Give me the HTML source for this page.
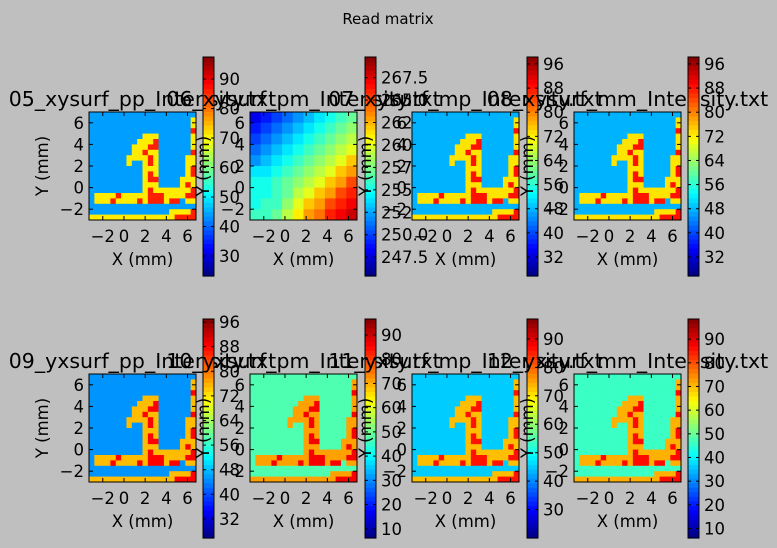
<!DOCTYPE html>
<html><head><meta charset="utf-8">
<style>
html,body{margin:0;padding:0;background:#bfbfbf;}
svg{display:block;font-family:"DejaVu Sans","Liberation Sans",sans-serif;}
</style></head>
<body>
<svg id="fig" width="777" height="548" viewBox="0 0 777 548" xmlns="http://www.w3.org/2000/svg">
<rect width="777" height="548" fill="#bfbfbf"/>
<text x="388" y="24" font-size="15" text-anchor="middle" fill="#000">Read matrix</text>
</svg>
<script>
// ---- data ----
const titles = ["05_xysurf_pp_Intensity.txt","06_xysurf_pm_Intensity.txt","07_xysurf_mp_Intensity.txt","08_xysurf_mm_Intensity.txt",
  "09_yxsurf_pp_Intensity.txt","10_yxsurf_pm_Intensity.txt","11_yxsurf_mp_Intensity.txt","12_yxsurf_mm_Intensity.txt"];
const cbMin = [23.2,245.4,25.7,25.7,25.8,6.2,20,6];
const cbMax = [97.5,269.8,98.3,98.3,97,96.6,97,98.5];
const cbTicks = [
  [30,40,50,60,70,80,90],
  [247.5,250,252.5,255,257.5,260,262.5,265,267.5],
  [32,40,48,56,64,72,80,88,96],
  [32,40,48,56,64,72,80,88,96],
  [32,40,48,56,64,72,80,88,96],
  [10,20,30,40,50,60,70,80,90],
  [30,40,50,60,70,80,90],
  [10,20,30,40,50,60,70,80,90]];
const cbDecimals = [0,1,0,0,0,0,0,0];
const bgVal = [44,null,47.5,47.5,45,47,45,46];
const fgVal = [71,null,73,73,75,71,73,71];
const hotVal = [86,null,88,88,88,86,86,86];
const axTicks = [-2,0,2,4,6];
const xRange = [-3.3,6.8];
const yRange = [-3,7];
// mask: '.' background, 'o' feature, 'h' hot feature (20x20 cells)
const mask = [
"....................",
"...................o",
"...................o",
"...................h",
"..........ooo......o",
".........oooh......o",
"........ooohh......o",
"........oohoo......h",
".......ooooho.....oo",
".......o..oho.....oo",
"..........ooo.....oh",
"..........oho.....oh",
"..........ohh....ooo",
"..........ooo....oho",
"..........ohoooooooh",
".oooohooooohhhoooohh",
".ooohoooohohhhohh.oo",
"....................",
"...............ooooh",
"oooooooooooooooohhhh"];
// panel 06 smooth field (10x10)
const field06 = [
[248,249,250,251,252,253,254,255,256,257],
[249,250,251,252,253,254,255,256,257,258],
[250,251,252,253,254,255,256,257,258,259],
[251,252,253,254,255,256,257,258,259,260],
[252,253,254,255,256,257,258,259,260,262],
[254,254,255,256,257,258,259,260,262,263],
[255,255,256,257,258,259,260,262,263,265],
[255,255,256,257,259,260,262,263,265,266],
[255,256,256,258,260,262,263,265,266,267],
[256,256,257,259,261,263,264,266,267,268]];
// ---- layout ----
const imgLeft = [89,250,412,574,89,250,412,574];
const imgTop = [112,112,112,112,374,374,374,374];
const W = 107, H = 108;
const cbLeft = [203,365,527,688,203,365,527,688];
const cbTop = [57,57,57,57,319,319,319,319];
const cbH = 219, cbW = 11;

const NS = "http://www.w3.org/2000/svg";
const svg = document.getElementById('fig');
function el(tag, attrs, parent){const e=document.createElementNS(NS,tag);for(const k in attrs)e.setAttribute(k,attrs[k]);(parent||svg).appendChild(e);return e;}
function jet(t){t=Math.max(0,Math.min(1,t));const c=v=>Math.round(255*Math.max(0,Math.min(1,v)));
  return `rgb(${c(1.5-Math.abs(4*t-3))},${c(1.5-Math.abs(4*t-2))},${c(1.5-Math.abs(4*t-1))})`;}
function fmt(v,d){return (v<0?"\u2212":"")+Math.abs(v).toFixed(d);}

for(let p=0;p<8;p++){
  const g = el('g',{});
  
  
  const L=imgLeft[p],T=imgTop[p];
  const sx=v=>L+(v-xRange[0])/(xRange[1]-xRange[0])*W;
  const sy=v=>T+(yRange[1]-v)/(yRange[1]-yRange[0])*H;
  const col=v=>jet((v-cbMin[p])/(cbMax[p]-cbMin[p]));
  const hm = el('g',{},g);
  
  
  if(p===1){
    const n=field06.length,m=field06[0].length;
    for(let r=0;r<n;r++)for(let c=0;c<m;c++){
      const x0=sx(xRange[0]+c*(xRange[1]-xRange[0])/m), x1=sx(xRange[0]+(c+1)*(xRange[1]-xRange[0])/m);
      const y0=sy(yRange[1]-r*(yRange[1]-yRange[0])/n), y1=sy(yRange[1]-(r+1)*(yRange[1]-yRange[0])/n);
      const cell=el('rect',{x:x0,y:y0,width:x1-x0+0.5,height:y1-y0+0.5,fill:col(field06[r][c])},hm);
      
    }
  } else {
    const n=mask.length,m=mask[0].length;
    for(let r=0;r<n;r++)for(let c=0;c<m;c++){
      const ch=mask[r][c];
      const v= ch==='h'?hotVal[p]:ch==='o'?fgVal[p]:bgVal[p];
      const x0=sx(xRange[0]+c*(xRange[1]-xRange[0])/m), x1=sx(xRange[0]+(c+1)*(xRange[1]-xRange[0])/m);
      const y0=sy(yRange[1]-r*(yRange[1]-yRange[0])/n), y1=sy(yRange[1]-(r+1)*(yRange[1]-yRange[0])/n);
      const cell=el('rect',{x:x0,y:y0,width:x1-x0+0.5,height:y1-y0+0.5,fill:col(v)},hm);
      
    }
  }
  const frame=el('rect',{x:L,y:T,width:W,height:H,fill:'none',stroke:'#000','stroke-width':1},g);
  
  
  axTicks.forEach(v=>{
    const x=sx(v);
    el('line',{x1:x,x2:x,y1:T+H,y2:T+H-4,stroke:'#000'},g);
    el('line',{x1:x,x2:x,y1:T,y2:T+4,stroke:'#000'},g);
    const tx=el('text',{x:x,y:T+H+22,'font-size':16.5,'text-anchor':'middle',fill:'#000'},g);
    tx.textContent=fmt(v,0);
    
    
    const y=sy(v);
    el('line',{x1:L,x2:L+4,y1:y,y2:y,stroke:'#000'},g);
    el('line',{x1:L+W,x2:L+W-4,y1:y,y2:y,stroke:'#000'},g);
    const ty=el('text',{x:L-5,y:y+6,'font-size':16.5,'text-anchor':'end',fill:'#000'},g);
    ty.textContent=fmt(v,0);
    
    
  });
  const xl=el('text',{x:L+W/2,y:T+H+45,'font-size':16.5,'text-anchor':'middle',fill:'#000'},g);
  xl.textContent='X (mm)';
  
  
  const yl=el('text',{x:0,y:0,'font-size':16.5,'text-anchor':'middle',fill:'#000',transform:`translate(${L-41},${T+H/2}) rotate(-90)`},g);
  yl.textContent='Y (mm)';
  
  
  const tt=el('text',{x:L+W/2,y:T-6,'font-size':20.5,'text-anchor':'middle',fill:'#000'},g);
  tt.textContent=titles[p];
  
  
  // colorbar
  const cg=el('g',{},g);
  
  
  const CL=cbLeft[p],CT=cbTop[p];
  const steps=48;
  for(let i=0;i<steps;i++){
    const y0=CT+cbH*i/steps;
    el('rect',{x:CL,y:y0,width:cbW,height:cbH/steps+0.6,fill:jet(1-(i+0.5)/steps)},cg);
  }
  el('rect',{x:CL,y:CT,width:cbW,height:cbH,fill:'none',stroke:'#000'},cg);
  cbTicks[p].forEach(v=>{
    const y=CT+(cbMax[p]-v)/(cbMax[p]-cbMin[p])*cbH;
    el('line',{x1:CL,x2:CL+3,y1:y,y2:y,stroke:'#000'},cg);
    el('line',{x1:CL+cbW,x2:CL+cbW-3,y1:y,y2:y,stroke:'#000'},cg);
    const t=el('text',{x:CL+cbW+5,y:y+6,'font-size':16.5,fill:'#000'},cg);
    t.textContent=v.toFixed(cbDecimals[p]);
    
    
  });
}
</script>
</body></html>
